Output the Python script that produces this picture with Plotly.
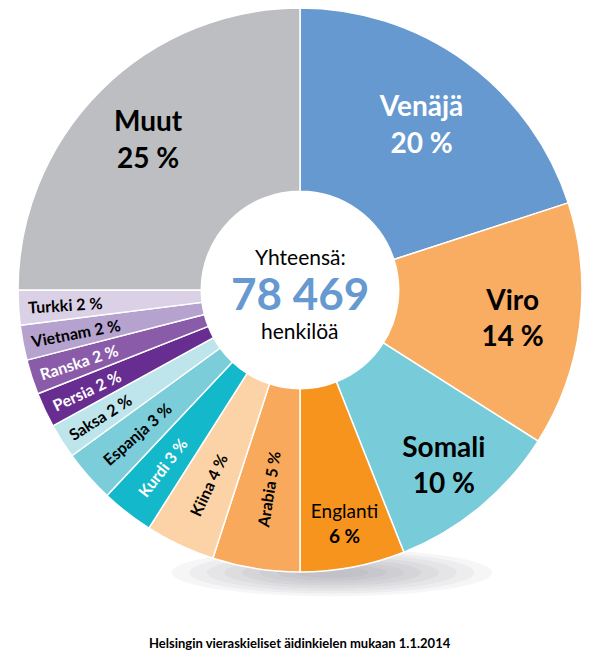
import plotly.graph_objects as go

# kielet myötäpäivään klo 12:sta alkaen
languages = ['Venäjä', 'Viro', 'Somali', 'Englanti', 'Arabia', 'Kiina', 'Kurdi',
             'Espanja', 'Saksa', 'Persia', 'Ranska', 'Vietnam', 'Turkki', 'Muut']
shares = [20, 14, 10, 6, 5, 4, 3, 3, 2, 2, 2, 2, 2, 25]
total_people = '78 469'
title_text = 'Helsingin vieraskieliset äidinkielen mukaan 1.1.2014'

colors = ['#6699D0', '#F9AD62', '#78CCD9', '#F7941E', '#F8A95C', '#FCD3A6', '#13B8CA',
          '#7ACDD9', '#BDE5EB', '#672D91', '#8A5BA8', '#B6A2CE', '#DBD1E7', '#BDBEC1']
font_colors = ['white', 'black', 'black', 'black', 'black', 'black', 'white',
               'black', 'black', 'white', 'white', 'black', 'black', 'black']

# isot nimilaput vaakaan; hole-arvo siirtää tekstiä ulospäin
big_label_hole = {'Muut': 0.52, 'Venäjä': 0.46, 'Viro': 0.52, 'Somali': 0.60, 'Englanti': 0.68}

font = 'Lato'
# sivun body-marginaali siirtää kaikkea 8 px, huomioitu tässä
dom = dict(x=[10 / 611, 574 / 611], y=[97 / 661, 1.0])
clear = ['rgba(0,0,0,0)'] * len(shares)

fig = go.Figure()

# pehmeä varjo kiekon alla
for k in range(8):
    s = 1 - k * 0.11
    fig.add_shape(type='circle', xref='paper', yref='paper', layer='below',
                  x0=0.53 - 0.262 * s, x1=0.53 + 0.262 * s,
                  y0=0.146 - 0.036 * s, y1=0.146 + 0.036 * s,
                  fillcolor='rgba(100,100,105,0.055)', line_width=0)

fig.add_trace(go.Pie(
    values=shares, labels=languages, textinfo='none',
    sort=False, direction='clockwise', rotation=0, hole=0.35,
    marker=dict(colors=colors, line=dict(color='white', width=1.5)),
    domain=dom, showlegend=False, hoverinfo='skip'))

# pienet osuudet säteittäin
small_text = [f'<b>{n} {v} %</b>' if n not in big_label_hole else ''
              for n, v in zip(languages, shares)]
fig.add_trace(go.Pie(
    values=shares, labels=languages, text=small_text, textinfo='text',
    sort=False, direction='clockwise', rotation=0, hole=0.42,
    marker=dict(colors=clear, line=dict(width=0)),
    textposition='inside', insidetextorientation='radial',
    textfont=dict(family=font, color=font_colors, size=16),
    domain=dom, showlegend=False, hoverinfo='skip'))

for name, h in big_label_hole.items():
    txt = []
    for n, v in zip(languages, shares):
        if n != name:
            txt.append('')
        elif n == 'Englanti':
            txt.append(f'{n}<br><b>{v} %</b>')
        else:
            txt.append(f'<b>{n}<br>{v} %</b>')
    fig.add_trace(go.Pie(
        values=shares, labels=languages, text=txt, textinfo='text',
        sort=False, direction='clockwise', rotation=0, hole=h,
        marker=dict(colors=clear, line=dict(width=0)),
        textposition='inside', insidetextorientation='horizontal',
        textfont=dict(family=font, color=font_colors, size=19 if name == 'Englanti' else 28),
        domain=dom, showlegend=False, hoverinfo='skip'))

fig.add_annotation(text='Yhteensä:', x=0.478, y=0.624, xref='paper', yref='paper',
                   showarrow=False, font=dict(family=font, size=21, color='black'))
fig.add_annotation(text=f'<b>{total_people}</b>', x=0.478, y=0.569, xref='paper', yref='paper',
                   showarrow=False, font=dict(family=font, size=44, color='#6699D0'))
fig.add_annotation(text='henkilöä', x=0.478, y=0.512, xref='paper', yref='paper',
                   showarrow=False, font=dict(family=font, size=21, color='black'))
fig.add_annotation(text=f'<b>{title_text}</b>', x=0.478, y=0.024, xref='paper', yref='paper',
                   showarrow=False, font=dict(family=font, size=13, color='black'))

fig.update_layout(width=611, height=661, margin=dict(l=0, r=0, t=0, b=0),
                  paper_bgcolor='white', plot_bgcolor='white')
fig.write_html('out.html')
